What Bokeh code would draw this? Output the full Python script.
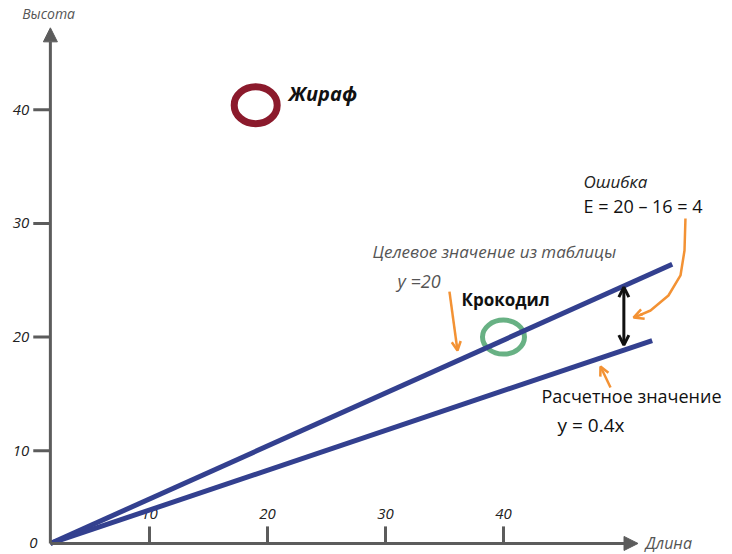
from bokeh.plotting import figure
from bokeh.models import Range1d, Arrow, OpenHead, NormalHead
from bokeh.core.properties import value
from bokeh.embed import file_html
from bokeh.resources import INLINE

# ---------------- data ----------------
animals = ["Жираф", "Крокодил"]
animal_length = [19, 40]
animal_height = [40.4, 20]
animal_colors = ["#8b1a2c", "#4ea36f"]

x_ticks = [10, 20, 30, 40]
x_tick_labels = ["10", "20", "30", "40"]
y_ticks = [10, 20, 30, 40]
y_tick_labels = ["10", "20", "30", "40"]

axis_origin = [1.6, 1.85]          # where the hand-drawn axes cross
x_axis_end = 51.4
y_axis_end = 47.2

target_line_x = [1.6, 54.3]
target_line_y = [1.85, 26.4]
predicted_line_x = [1.6, 52.6]
predicted_line_y = [1.85, 19.7]

target_value = 20
predicted_value = 16
slope = 0.4

error_x = 50.2
error_top = 24.4
error_bottom = 19.3

FONT = value("Open Sans")
GREY = "#555555"
AXIS = "#5c5c5c"
NAVY = "#33408f"
ORANGE = "#f39234"

p = figure(width=732, height=554, output_backend="svg", toolbar_location=None,
           x_range=Range1d(-2.627, 59.407), y_range=Range1d(0.8795, 49.604),
           x_axis_type=None, y_axis_type=None, min_border=0,
           outline_line_color=None, background_fill_color="white",
           border_fill_color="white")
p.grid.visible = False

ox, oy = axis_origin

# ---------------- axes ----------------
p.add_layout(Arrow(x_start=ox, y_start=oy, x_end=ox, y_end=y_axis_end,
                   line_color=AXIS, line_width=3,
                   end=NormalHead(size=14, fill_color=AXIS, line_color=AXIS, line_width=1)))
p.add_layout(Arrow(x_start=ox, y_start=oy, x_end=x_axis_end, y_end=oy,
                   line_color=AXIS, line_width=3,
                   end=NormalHead(size=14, fill_color=AXIS, line_color=AXIS, line_width=1)))

ytick_len = 1.45
xtick_len = 1.5
p.segment(x0=[ox - ytick_len] * len(y_ticks), y0=y_ticks,
          x1=[ox] * len(y_ticks), y1=y_ticks, line_color=AXIS, line_width=3)
p.segment(x0=x_ticks, y0=[oy] * len(x_ticks),
          x1=x_ticks, y1=[oy + xtick_len] * len(x_ticks), line_color=AXIS, line_width=3)

p.text(x=[ox - ytick_len] * len(y_ticks), y=y_ticks, text=y_tick_labels,
       x_offset=-4, text_align="right", text_baseline="middle",
       text_font=FONT, text_font_style="italic", text_font_size="15px", text_color="#222222")
p.text(x=x_ticks, y=[oy + 2.55] * len(x_ticks), text=x_tick_labels,
       text_align="center", text_baseline="middle",
       text_font=FONT, text_font_style="italic", text_font_size="15px", text_color="#222222")
p.text(x=[ox - 1.45], y=[oy + 0.05], text=["0"], text_align="center", text_baseline="middle",
       text_font=FONT, text_font_style="italic", text_font_size="15px", text_color="#222222")

p.text(x=[ox - 0.15], y=[48.5], text=["Высота"], text_align="center", text_baseline="middle",
       text_font=FONT, text_font_style="italic", text_font_size="14px", text_color=GREY)
p.text(x=[52.03], y=[oy], text=["Длина"], text_align="left", text_baseline="middle",
       text_font=FONT, text_font_style="italic", text_font_size="16px", text_color=GREY)

# ---------------- animals ----------------
p.ellipse(x=animal_length[:1], y=animal_height[:1], width=43, height=37,
          width_units="screen", height_units="screen",
          fill_color=None, line_color=animal_colors[0], line_width=7)
p.ellipse(x=animal_length[1:], y=animal_height[1:], width=42, height=34,
          width_units="screen", height_units="screen",
          fill_color=None, line_color=animal_colors[1], line_width=5, line_alpha=0.85)

p.text(x=animal_length[:1], y=animal_height[:1], text=animals[:1], x_offset=33, y_offset=-12,
       text_align="left", text_baseline="middle", text_font=FONT, text_font_style="bold italic",
       text_font_size="20px", text_color="#111111")
p.text(x=animal_length[1:], y=animal_height[1:], text=animals[1:], x_offset=-42, y_offset=-38,
       text_align="left", text_baseline="middle", text_font=FONT, text_font_style="bold",
       text_font_size="17px", text_color="#111111")

# ---------------- lines ----------------
p.line(target_line_x, target_line_y, line_color=NAVY, line_width=5)
p.line(predicted_line_x, predicted_line_y, line_color=NAVY, line_width=5)

# error arrow
p.add_layout(Arrow(x_start=error_x, y_start=error_bottom, x_end=error_x, y_end=error_top,
                   line_color="#111111", line_width=3,
                   start=OpenHead(size=10, line_color="#111111", line_width=3),
                   end=OpenHead(size=10, line_color="#111111", line_width=3)))

# ---------------- annotations ----------------
p.text(x=[28.9], y=[27.53], text=["Целевое значение из таблицы"], text_align="left",
       text_baseline="middle", text_font=FONT, text_font_style="italic",
       text_font_size="17px", text_color=GREY)
p.text(x=[31.02], y=[24.89], text=[f"y ={target_value}"], text_align="left",
       text_baseline="middle", text_font=FONT, text_font_style="italic",
       text_font_size="18px", text_color=GREY)
p.text(x=[46.78], y=[33.69], text=["Ошибка"], text_align="left",
       text_baseline="middle", text_font=FONT, text_font_style="italic",
       text_font_size="17px", text_color="#222222")
p.text(x=[46.78], y=[31.49],
       text=[f"E = {target_value} – {predicted_value} = {target_value - predicted_value}"],
       text_align="left", text_baseline="middle", text_font=FONT,
       text_font_size="18px", text_color="#111111")
p.text(x=[43.22], y=[14.78], text=["Расчетное значение"], text_align="left",
       text_baseline="middle", text_font=FONT, text_font_size="18px", text_color="#111111")
p.text(x=[44.58], y=[12.31], text=[f"y = {slope}x"], text_align="left",
       text_baseline="middle", text_font=FONT, text_font_size="19px", text_color="#111111")

# orange pointer arrows
p.add_layout(Arrow(x_start=35.42, y_start=24.0, x_end=36.1, y_end=18.82,
                   line_color=ORANGE, line_width=2.5,
                   end=OpenHead(size=9, line_color=ORANGE, line_width=2.5)))
curve_x = [55.42, 55.34, 55.0, 53.98, 52.46, 51.6]
curve_y = [30.43, 27.62, 25.42, 23.66, 22.34, 21.95]
p.line(curve_x, curve_y, line_color=ORANGE, line_width=2.5)
p.add_layout(Arrow(x_start=51.8, y_start=22.03, x_end=51.02, y_end=21.72,
                   line_color=ORANGE, line_width=2.5,
                   end=OpenHead(size=10, line_color=ORANGE, line_width=2.5)))
p.add_layout(Arrow(x_start=49.07, y_start=15.57, x_end=48.22, y_end=17.41,
                   line_color=ORANGE, line_width=2.5,
                   end=OpenHead(size=9, line_color=ORANGE, line_width=2.5)))

open("out.html", "w").write(file_html(p, INLINE))
